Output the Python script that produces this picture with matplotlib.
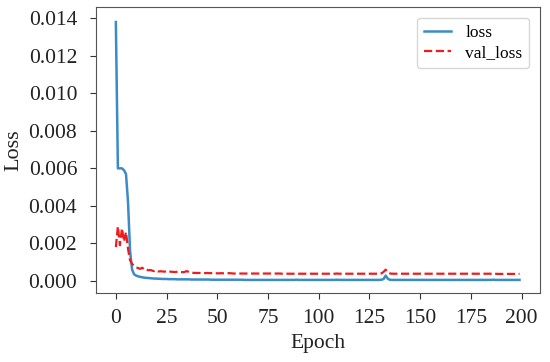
import matplotlib
matplotlib.use("Agg")
import matplotlib.pyplot as plt

# per-epoch training history (epochs 0..199)
loss = [
    0.0138, 0.0060, 0.0060, 0.0060, 0.0059, 0.0057, 0.0042, 0.0016, 0.0006, 0.00035,
    0.00028, 0.00024, 0.00021, 0.00019, 0.00017, 0.00016, 0.00015, 0.00014, 0.00013, 0.00012,
    0.00012, 0.00011, 0.00011, 0.00010, 0.00010, 0.00010, 0.00009, 0.00009, 0.00009, 0.00009,
    0.00008, 0.00008, 0.00008, 0.00008, 0.00008, 0.00008, 0.00008, 0.00007, 0.00007, 0.00007,
    0.00007, 0.00007, 0.00007, 0.00007, 0.00007, 0.00007, 0.00007, 0.00006, 0.00006, 0.00006,
    0.00006, 0.00006, 0.00006, 0.00006, 0.00006, 0.00006, 0.00006, 0.00006, 0.00006, 0.00006,
    0.00006, 0.00006, 0.00006, 0.00005, 0.00005, 0.00005, 0.00005, 0.00005, 0.00005, 0.00005,
    0.00005, 0.00005, 0.00005, 0.00005, 0.00005, 0.00005, 0.00005, 0.00005, 0.00005, 0.00005,
    0.00005, 0.00005, 0.00005, 0.00005, 0.00005, 0.00005, 0.00005, 0.00005, 0.00005, 0.00006,
    0.00005, 0.00005, 0.00005, 0.00005, 0.00005, 0.00005, 0.00005, 0.00005, 0.00005, 0.00005,
    0.00005, 0.00005, 0.00005, 0.00005, 0.00005, 0.00005, 0.00005, 0.00005, 0.00005, 0.00006,
    0.00005, 0.00005, 0.00005, 0.00005, 0.00005, 0.00005, 0.00005, 0.00005, 0.00005, 0.00005,
    0.00005, 0.00005, 0.00005, 0.00005, 0.00005, 0.00005, 0.00005, 0.00005, 0.00005, 0.00005,
    0.00005, 0.00006, 0.00010, 0.00028, 0.00012, 0.00006, 0.00005, 0.00005, 0.00005, 0.00005,
    0.00005, 0.00005, 0.00005, 0.00005, 0.00005, 0.00005, 0.00005, 0.00005, 0.00005, 0.00005,
    0.00005, 0.00005, 0.00005, 0.00005, 0.00005, 0.00005, 0.00005, 0.00005, 0.00005, 0.00005,
    0.00005, 0.00005, 0.00005, 0.00005, 0.00005, 0.00005, 0.00005, 0.00005, 0.00005, 0.00005,
    0.00005, 0.00005, 0.00005, 0.00005, 0.00005, 0.00005, 0.00005, 0.00005, 0.00005, 0.00005,
    0.00005, 0.00005, 0.00005, 0.00005, 0.00005, 0.00005, 0.00006, 0.00005, 0.00005, 0.00005,
    0.00005, 0.00005, 0.00005, 0.00005, 0.00005, 0.00005, 0.00005, 0.00005, 0.00005, 0.00005,
]
val_loss = [
    0.0018, 0.0029, 0.0019, 0.0028, 0.0021, 0.0026, 0.0017, 0.0011, 0.0009, 0.00080,
    0.00072, 0.00068, 0.00064, 0.00070, 0.00060, 0.00062, 0.00056, 0.00058, 0.00054, 0.00052,
    0.00056, 0.00050, 0.00051, 0.00050, 0.00049, 0.00052, 0.00048, 0.00049, 0.00048, 0.00047,
    0.00048, 0.00049, 0.00047, 0.00046, 0.00048, 0.00052, 0.00047, 0.00046, 0.00043, 0.00042,
    0.00042, 0.00042, 0.00041, 0.00042, 0.00041, 0.00042, 0.00041, 0.00041, 0.00043, 0.00041,
    0.00040, 0.00040, 0.00041, 0.00040, 0.00040, 0.00040, 0.00041, 0.00040, 0.00039, 0.00039,
    0.00039, 0.00039, 0.00039, 0.00039, 0.00039, 0.00039, 0.00039, 0.00039, 0.00039, 0.00039,
    0.00039, 0.00039, 0.00039, 0.00039, 0.00039, 0.00039, 0.00039, 0.00039, 0.00039, 0.00039,
    0.00039, 0.00039, 0.00038, 0.00038, 0.00038, 0.00038, 0.00038, 0.00038, 0.00038, 0.00039,
    0.00038, 0.00038, 0.00038, 0.00038, 0.00038, 0.00038, 0.00038, 0.00038, 0.00038, 0.00038,
    0.00038, 0.00038, 0.00038, 0.00038, 0.00038, 0.00038, 0.00038, 0.00038, 0.00038, 0.00039,
    0.00038, 0.00038, 0.00038, 0.00038, 0.00038, 0.00038, 0.00038, 0.00038, 0.00038, 0.00038,
    0.00038, 0.00038, 0.00038, 0.00038, 0.00038, 0.00038, 0.00038, 0.00038, 0.00038, 0.00038,
    0.00038, 0.00040, 0.00048, 0.00060, 0.00046, 0.00040, 0.00038, 0.00038, 0.00038, 0.00038,
    0.00038, 0.00038, 0.00038, 0.00038, 0.00038, 0.00038, 0.00038, 0.00038, 0.00038, 0.00038,
    0.00038, 0.00038, 0.00038, 0.00038, 0.00038, 0.00038, 0.00038, 0.00038, 0.00038, 0.00038,
    0.00038, 0.00038, 0.00038, 0.00038, 0.00038, 0.00038, 0.00038, 0.00038, 0.00038, 0.00038,
    0.00038, 0.00038, 0.00038, 0.00038, 0.00038, 0.00038, 0.00038, 0.00038, 0.00038, 0.00038,
    0.00038, 0.00038, 0.00038, 0.00038, 0.00038, 0.00038, 0.00040, 0.00038, 0.00037, 0.00037,
    0.00037, 0.00037, 0.00037, 0.00037, 0.00037, 0.00037, 0.00037, 0.00037, 0.00037, 0.00037,
]
epochs = list(range(len(loss)))

xticks = [0, 25, 50, 75, 100, 125, 150, 175, 200]
yticks = [0.0, 0.002, 0.004, 0.006, 0.008, 0.010, 0.012, 0.014]
ytick_labels = ["0.000", "0.002", "0.004", "0.006", "0.008", "0.010", "0.012", "0.014"]

plt.rcParams["font.family"] = ["Liberation Serif", "DejaVu Serif"]

fig = plt.figure(figsize=(5.5, 3.62), dpi=100)
ax = fig.add_axes([0.1745, 0.19, 0.807, 0.79])

ax.plot(epochs, loss, color="#3a8cc6", linewidth=1.8, label="loss")
ax.plot(epochs, val_loss, color="#ee1c1c", linestyle="--", linewidth=1.6, label="val_loss")

ax.set_xticks(xticks)
ax.set_yticks(yticks)
ax.set_yticklabels(ytick_labels)
ax.set_xlim(-9.8, 209)
ax.set_ylim(-0.00066, 0.01459)
ax.tick_params(labelsize=15.5, length=4.5, color="#333333", labelcolor="#222222")
ax.tick_params(axis="x", pad=7)
ax.tick_params(axis="y", pad=9)
for s in ax.spines.values():
    s.set_color("#555555")
ax.set_xlabel("Epoch", fontsize=15.5, labelpad=4, color="#222222")
ax.set_ylabel("Loss", fontsize=16, labelpad=4, color="#222222")
ax.legend(loc="upper right", fontsize=12.5, handlelength=1.6,
          borderaxespad=0.6, labelspacing=0.25)

fig.savefig("out.png", dpi=100)
